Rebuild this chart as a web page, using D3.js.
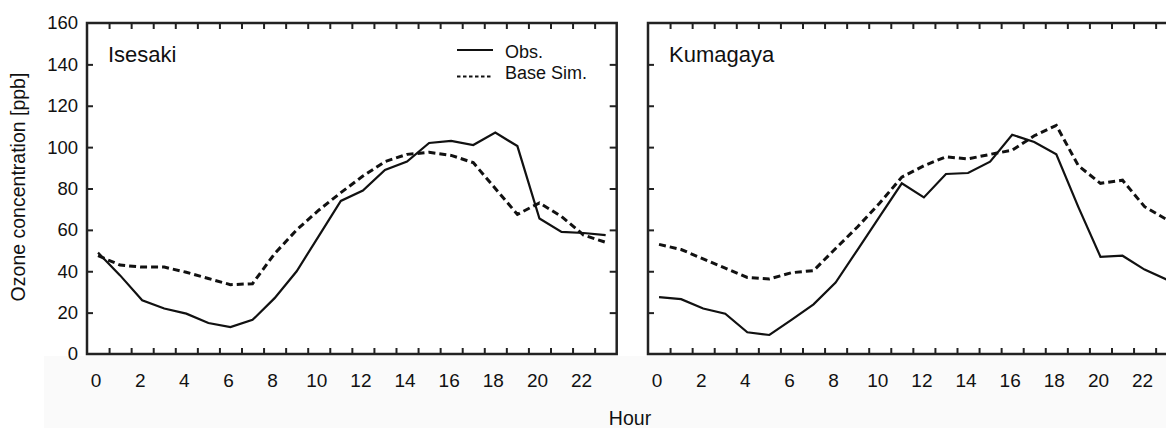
<!DOCTYPE html>
<html>
<head>
<meta charset="utf-8">
<script src="https://cdn.jsdelivr.net/npm/d3@7"></script>
<style>
  body { margin: 0; background: #fff; }
  svg text { font-family: "Liberation Sans", Arial, sans-serif; fill: #111; }
</style>
</head>
<body>
<svg width="1166" height="428"></svg>
<script>
// hours of day
var hours = d3.range(0, 24);
var xLabels = [0, 2, 4, 6, 8, 10, 12, 14, 16, 18, 20, 22];
var yLabels = [0, 20, 40, 60, 80, 100, 120, 140, 160];
var yTickVals = [20, 40, 60, 80, 100, 120, 140];

var isesakiObs  = [49, 38, 26, 22, 19.5, 15, 13, 16.5, 27, 40, 57, 74, 79, 89, 93, 102, 103, 101, 107, 100.5, 65.5, 59, 58.5, 57.5];
var isesakiBase = [47.5, 43, 42, 42, 39.5, 36.5, 33.5, 34, 48.5, 60, 69.5, 78, 86, 93, 96.5, 97.5, 96, 92.5, 80, 67.5, 73, 66.5, 57.5, 54];
var kumaObs     = [27.5, 26.5, 22, 19.5, 10.5, 9.2, 16.5, 24, 34.5, 50.5, 66.5, 82.5, 75.7, 87, 87.5, 93, 106, 102.5, 96.5, 71, 47, 47.5, 40.8, 36];
var kumaBase    = [53, 50.5, 46, 41.5, 37, 36.3, 39.3, 40.3, 51, 61.5, 73, 85.5, 91, 95.3, 94.3, 96.5, 98.5, 105.5, 110.5, 91, 82.5, 84, 71.2, 65];

var panels = [
  { name: "Isesaki",  left: 87,  obs: isesakiObs, base: isesakiBase, legend: true,  yLabels: true },
  { name: "Kumagaya", left: 648, obs: kumaObs,    base: kumaBase,    legend: false, yLabels: false }
];

var svg = d3.select("svg");
var plotTop = 23, plotBottom = 354, pw = 529.7;

// faint scan tint below the plots
svg.append("rect").attr("x", 44).attr("y", 356).attr("width", 1122).attr("height", 72).attr("fill", "#fafafa");

var y = d3.scaleLinear().domain([0, 160]).range([plotBottom, plotTop]);

panels.forEach(function (p) {
  var x = d3.scaleLinear().domain([-0.5, 23.5]).range([p.left, p.left + pw]);
  var g = svg.append("g");
  var bounds = hours.slice(1).map(function (h) { return h - 0.5; });

  // inward ticks
  g.append("g").attr("transform", "translate(0," + plotBottom + ")")
    .call(d3.axisBottom(x).tickValues(bounds).tickSize(-6).tickFormat(""));
  g.append("g").attr("transform", "translate(0," + plotTop + ")")
    .call(d3.axisTop(x).tickValues(bounds).tickSize(-6).tickFormat(""));
  g.append("g").attr("transform", "translate(" + p.left + ",0)")
    .call(d3.axisLeft(y).tickValues(yTickVals).tickSize(-6).tickFormat(""));
  g.append("g").attr("transform", "translate(" + (p.left + pw) + ",0)")
    .call(d3.axisRight(y).tickValues(yTickVals).tickSize(-7).tickFormat(""));
  g.selectAll(".domain").remove();
  g.selectAll(".tick line").attr("stroke", "#222").attr("stroke-width", 2);

  g.append("rect")
    .attr("x", p.left).attr("y", plotTop).attr("width", pw).attr("height", plotBottom - plotTop)
    .attr("fill", "none").attr("stroke", "#222").attr("stroke-width", 2.5);

  // x tick labels
  g.selectAll(".xl").data(xLabels).enter().append("text")
    .attr("x", function (d) { return x(d) - 2; })
    .attr("y", 387)
    .attr("text-anchor", "middle")
    .style("font-size", "19px")
    .text(function (d) { return d; });

  if (p.yLabels) {
    g.selectAll(".yl").data(yLabels).enter().append("text")
      .attr("x", 78)
      .attr("y", function (d) { return y(d); })
      .attr("dy", "0.35em")
      .attr("text-anchor", "end")
      .style("font-size", "18.5px")
      .text(function (d) { return d; });
  }

  var line = d3.line()
    .x(function (d, i) { return x(hours[i]); })
    .y(function (d) { return y(d); });

  g.append("path").datum(p.base)
    .attr("d", line).attr("fill", "none").attr("stroke", "#111")
    .attr("stroke-width", 3).attr("stroke-dasharray", "7,4");
  g.append("path").datum(p.obs)
    .attr("d", line).attr("fill", "none").attr("stroke", "#111")
    .attr("stroke-width", 2.2);

  g.append("text")
    .attr("x", p.left + 21).attr("y", 62)
    .style("font-size", "22px")
    .text(p.name);

  if (p.legend) {
    var leg = g.append("g");
    leg.append("line").attr("x1", 457).attr("x2", 493).attr("y1", 50).attr("y2", 50)
      .attr("stroke", "#111").attr("stroke-width", 2);
    leg.append("line").attr("x1", 457).attr("x2", 493).attr("y1", 76.5).attr("y2", 76.5)
      .attr("stroke", "#111").attr("stroke-width", 2).attr("stroke-dasharray", "3.5,2.5");
    leg.append("text").attr("x", 505).attr("y", 58).style("font-size", "18px").text("Obs.");
    leg.append("text").attr("x", 505).attr("y", 79).style("font-size", "18px").text("Base Sim.");
  }
});

// axis titles
svg.append("text")
  .attr("transform", "translate(25,187) rotate(-90)")
  .attr("text-anchor", "middle")
  .style("font-size", "19.5px")
  .text("Ozone concentration [ppb]");

svg.append("text")
  .attr("x", 630).attr("y", 425)
  .attr("text-anchor", "middle")
  .style("font-size", "19.5px")
  .text("Hour");
</script>
</body>
</html>
